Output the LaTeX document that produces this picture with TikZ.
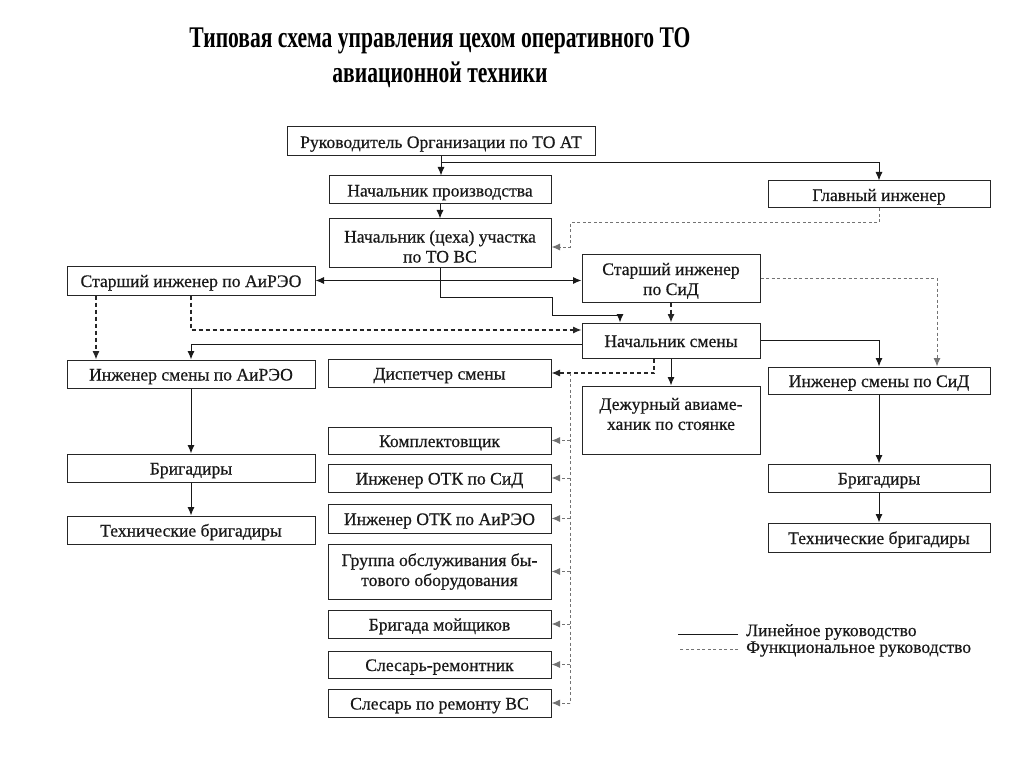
\documentclass[tikz,border=0pt]{standalone}
\usepackage{fontspec}
\setmainfont{Liberation Serif}
\newfontfamily\boxfont{Liberation Serif}[FakeBold=0.5]
\usetikzlibrary{arrows.meta,calc}
\begin{document}
\begin{tikzpicture}[x=1pt,y=-1pt,
  box/.style={draw=black!85,line width=1pt,inner sep=0pt,align=center,
    font=\boxfont\fontsize{17.6}{20}\selectfont,text=black!90,
    text height=15pt,text depth=2pt},
  txt/.style={inner sep=0pt,align=center,font=\boxfont\fontsize{17.6}{20}\selectfont,text=black!90},
  ln/.style={draw=black!90,line width=1pt},
  arr/.style={-{Latex[length=8.5pt,width=7pt]}},
  dbl/.style={{Latex[length=8.5pt,width=7pt]}-{Latex[length=8.5pt,width=7pt]}},
  dk/.style={draw=black!85,line width=1.1pt,dash pattern=on 4pt off 3pt},
  fd/.style={draw=black!55,line width=1pt,dash pattern=on 3pt off 2.5pt},
  ttl/.style={inner sep=0pt,font=\fontsize{30}{35}\selectfont\bfseries}
]
\useasboundingbox (0,0) rectangle (1024,767);
\fill[white] (0,0) rectangle (1024,767);

% title
\node[ttl,anchor=base] (t1) at (440,48) {\scalebox{0.72}[1]{Типовая схема управления цехом оперативного ТО}};
\node[ttl,anchor=base] (t2) at (440,83) {\scalebox{0.72}[1]{авиационной техники}};

% boxes
\node[box,minimum width=308,minimum height=29] (ruk) at (441,141.5) {Руководитель Организации по ТО АТ};
\node[box,minimum width=222,minimum height=28] (proizv) at (440,190) {Начальник производства};
\node[box,minimum width=222,minimum height=48,text height=39pt,text depth=0pt] (uch) at (440,243) {Начальник (цеха) участка\\по ТО ВС};
\node[box,minimum width=222,minimum height=27] (glav) at (879,194.5) {Главный инженер};
\node[box,minimum width=248,minimum height=29] (stAiR) at (191,280.5) {Старший инженер по АиРЭО};
\node[box,minimum width=178,minimum height=48,text height=34pt,text depth=0pt] (stSiD) at (671,278) {Старший инженер\\по СиД};
\node[box,minimum width=178,minimum height=35] (nachSm) at (671,340.5) {Начальник смены};
\node[box,minimum width=248,minimum height=28] (ingAiR) at (191,374) {Инженер смены по АиРЭО};
\node[box,minimum width=223,minimum height=28] (disp) at (439.5,373) {Диспетчер смены};
\node[box,minimum width=178,minimum height=68] (dezh) at (671,420) {};
\node[txt] (dezhT) at (671,414) {Дежурный авиаме-\\ханик по стоянке};
\node[box,minimum width=222,minimum height=27] (ingSiD) at (879,380.5) {Инженер смены по СиД};
\node[box,minimum width=222,minimum height=28] (brigR) at (879,478) {Бригадиры};
\node[box,minimum width=222,minimum height=29] (techR) at (879,537.5) {Технические бригадиры};
\node[box,minimum width=248,minimum height=28] (brigL) at (191,468) {Бригадиры};
\node[box,minimum width=248,minimum height=28] (techL) at (191,530) {Технические бригадиры};
\node[box,minimum width=223,minimum height=27] (kompl) at (439.5,440.5) {Комплектовщик};
\node[box,minimum width=223,minimum height=28] (otkS) at (439.5,478) {Инженер ОТК по СиД};
\node[box,minimum width=223,minimum height=29] (otkA) at (439.5,518.5) {Инженер ОТК по АиРЭО};
\node[box,minimum width=223,minimum height=55,text height=29pt,text depth=0pt] (grup) at (439.5,571.5) {Группа обслуживания бы-\\тового оборудования};
\node[box,minimum width=223,minimum height=28] (moi) at (439.5,624) {Бригада мойщиков};
\node[box,minimum width=223,minimum height=27] (slr) at (439.5,664.5) {Слесарь-ремонтник};
\node[box,minimum width=223,minimum height=28] (slvs) at (439.5,703) {Слесарь по ремонту ВС};

% helper coordinates
\coordinate (j1) at (441,163);
\coordinate (g1) at (570,223);
\coordinate (u1) at (552,297);
\coordinate (u2) at (620,315);
\coordinate (v0) at (570,373);
\coordinate (v1) at (570,703);

% solid connectors
\draw[ln,arr] (ruk.south) -- (ruk.south |- proizv.north);
\draw[ln,arr] (j1) -| (glav.north);
\draw[ln,arr] (proizv.south) -- (uch.north);
\draw[ln,dbl] (stAiR.east) -- (stAiR.east -| stSiD.west);
\draw[ln,arr] (uch.south) |- (u1) |- (u2) -- (u2 |- nachSm.north);
\draw[ln,arr] ([yshift=-3.5pt]nachSm.west) -| (ingAiR.north);
\draw[ln,arr] (nachSm.east) -| (ingSiD.north);
\draw[ln,arr] (nachSm.south) -- (dezh.north);
\draw[ln,arr] (ingAiR.south) -- (brigL.north);
\draw[ln,arr] (brigL.south) -- (techL.north);
\draw[ln,arr] (ingSiD.south) -- (brigR.north);
\draw[ln,arr] (brigR.south) -- (techR.north);

% dashed connectors
\draw[fd,arr] (glav.south) |- (g1) |- ([yshift=-4pt]uch.east);
\draw[dk,arr] (stSiD.south) -- (nachSm.north);
\draw[dk,arr] (stAiR.south) |- ([yshift=10.5pt]nachSm.west);
\draw[dk,arr] ([xshift=-95pt]stAiR.south) -- ([xshift=-95pt]stAiR.south |- ingAiR.north);
\draw[fd,arr] (stSiD.east) -| ([xshift=58pt]ingSiD.north);
\draw[dk,arr] ([xshift=-17pt]nachSm.south) |- (disp.east);
\draw[fd] (v0) -- (v1);
\foreach \b in {kompl,otkS,otkA,grup,moi,slr,slvs}
  \draw[fd,arr] (\b.east -| v0) -- (\b.east);

% legend
\node[txt,anchor=west] (legL) at (746,632) {Линейное руководство};
\node[txt,anchor=west] (legF) at (746,649) {Функциональное руководство};
\draw[ln] ([xshift=-8pt,yshift=-2pt]legL.west) -- ++(-60,0);
\draw[fd,line width=0.8pt] ([xshift=-8pt]legF.west) -- ++(-60,0);
\end{tikzpicture}
\end{document}
